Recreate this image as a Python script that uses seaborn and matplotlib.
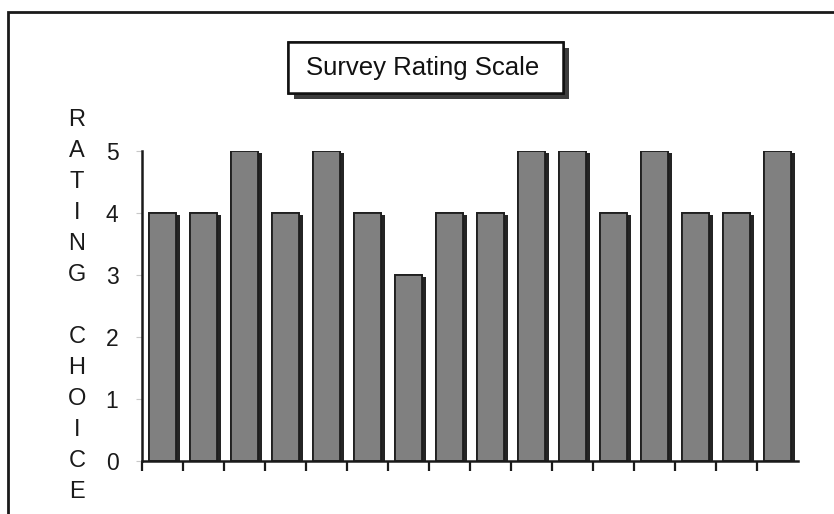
import matplotlib
matplotlib.use("Agg")
import matplotlib.pyplot as plt
import matplotlib.patheffects as pe
from matplotlib.patches import Rectangle
import numpy as np
import pandas as pd
import seaborn as sns

# Survey responses: one rating per question
questions = [f"Q{i}" for i in range(1, 17)]
ratings = [4, 4, 5, 4, 5, 4, 3, 4, 4, 5, 5, 4, 5, 4, 4, 5]
rating_ticks = [0, 1, 2, 3, 4, 5]
title_text = "Survey Rating Scale"
axis_label = "RATING CHOICE"

df = pd.DataFrame({"question": questions, "rating": ratings})

sns.set_theme(style="white")
plt.rcParams["font.family"] = ["Liberation Sans", "DejaVu Sans"]

W, H = 834, 514
fig = plt.figure(figsize=(W / 100, H / 100), dpi=100)
fig.patch.set_facecolor("white")

ax = fig.add_axes([142 / W, 1 - 461 / H, 656 / W, 310 / H])
ax.set_facecolor("white")

sns.barplot(
    data=df, x="question", y="rating", ax=ax,
    color="#808080", saturation=1, width=0.64,
    edgecolor="#1e1e1e", linewidth=1.3,
)

# drop shadow on every bar
for bar in ax.patches:
    bar.set_path_effects([
        pe.withSimplePatchShadow(offset=(3.0, -1.6), shadow_rgbFace="#242424", alpha=1.0),
        pe.Normal(),
    ])

ax.set_xlim(-0.5, len(questions) - 0.5)
ax.set_ylim(0, 5)
ax.set_yticks(rating_ticks)
ax.set_yticklabels([str(t) for t in rating_ticks], fontsize=16.5, color="#1a1a1a")
ax.tick_params(axis="y", which="both", left=True, length=4, width=0.8,
               color="#c8c8c8", pad=13)

# x ticks on the category boundaries, pointing down, no labels
ax.set_xticks(np.arange(-0.5, len(questions) - 1, 1.0))
ax.set_xticklabels([])
ax.tick_params(axis="x", which="both", bottom=True, length=7.5, width=1.6,
               color="#1a1a1a", direction="out")
ax.set_xlabel("")
ax.set_ylabel("")

for side in ("top", "right"):
    ax.spines[side].set_visible(False)
for side in ("left", "bottom"):
    ax.spines[side].set_color("#1a1a1a")
    ax.spines[side].set_linewidth(1.8)

# vertical stacked axis label
letters = list(axis_label)
step = 31 / H
y0 = 1 - 120 / H
for i, ch in enumerate(letters):
    if ch == " ":
        continue
    fig.text(77 / W, y0 - i * step, ch, ha="center", va="center",
             fontsize=17, color="#1a1a1a")

# title box with shadow
box = Rectangle((288 / W, 1 - 93 / H), 275 / W, 51 / H,
                transform=fig.transFigure, facecolor="white",
                edgecolor="#111111", linewidth=1.8, zorder=5)
box.set_path_effects([
    pe.withSimplePatchShadow(offset=(4, -4), shadow_rgbFace="#3c3c3c", alpha=1.0),
    pe.Normal(),
])
fig.add_artist(box)
fig.text(423 / W, 1 - 68 / H, title_text, ha="center", va="center",
         fontsize=18.5, color="#111111", zorder=6)

# outer frame
frame = Rectangle((8 / W, -0.1), 1.2, 1.1 - 12 / H,
                  transform=fig.transFigure, facecolor="none",
                  edgecolor="#1a1a1a", linewidth=2.0, clip_on=False)
fig.add_artist(frame)

fig.savefig("out.png", dpi=100, facecolor="white")
